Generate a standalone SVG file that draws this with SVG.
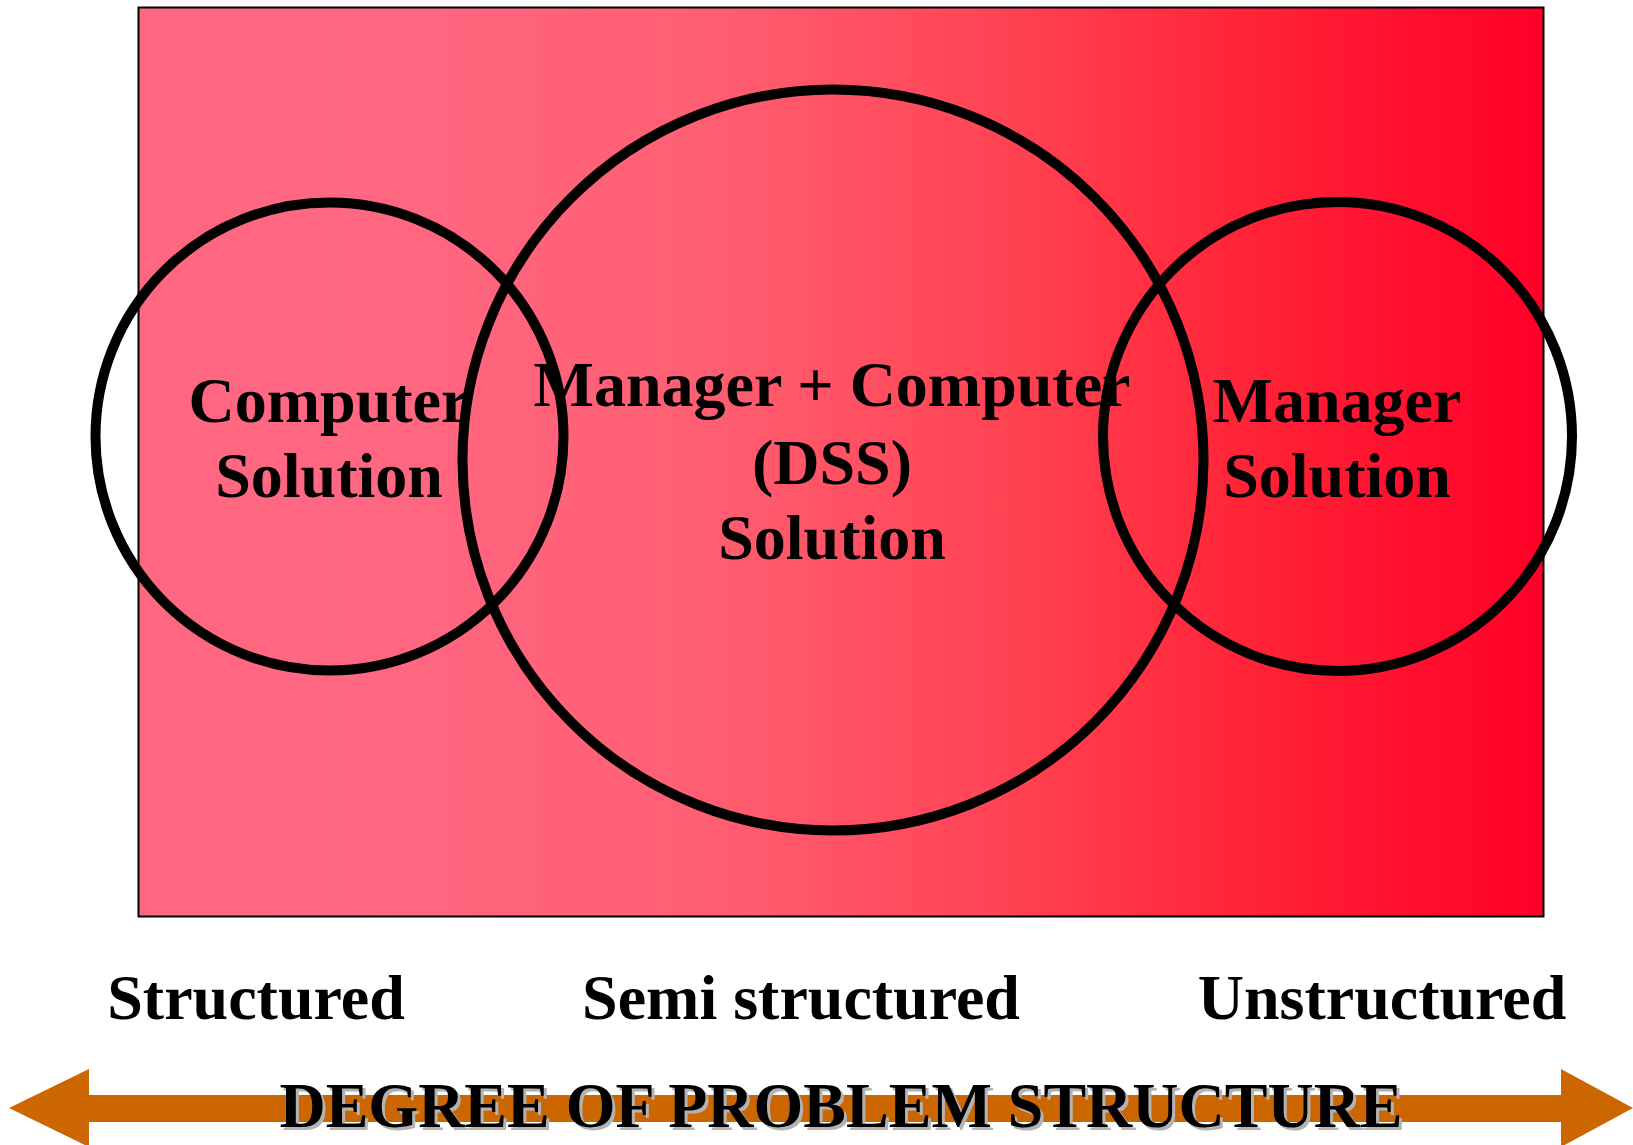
<svg xmlns="http://www.w3.org/2000/svg" width="1633" height="1145" viewBox="0 0 1633 1145">
  <defs>
    <linearGradient id="bg" x1="0" y1="0" x2="1" y2="0">
      <stop offset="0" stop-color="#FF6780"/>
      <stop offset="0.15" stop-color="#FF6883"/>
      <stop offset="0.4" stop-color="#FF5F73"/>
      <stop offset="0.6" stop-color="#FF4656"/>
      <stop offset="0.8" stop-color="#FF2236"/>
      <stop offset="1" stop-color="#FF0028"/>
    </linearGradient>
    <style>
      .ring { fill: none; stroke: #000; stroke-width: 10; }
      .lbl { font-family: "Liberation Serif", "Times New Roman", serif; font-weight: bold; font-size: 64px; text-anchor: middle; fill: #000; }
      .shadow { fill: #B3B3B3; }
      .arrow { fill: #CC6600; }
    </style>
  </defs>
  <rect x="0" y="0" width="1633" height="1145" fill="#FFFFFF"/>
  <g id="frame">
    <rect x="138.5" y="7.5" width="1405" height="909" fill="url(#bg)" stroke="#000" stroke-width="2"/>
  </g>
  <g id="computer-solution">
    <circle class="ring" cx="329.5" cy="436.5" r="234"/>
    <text class="lbl" x="329" y="422">Computer</text>
    <text class="lbl" x="329" y="497">Solution</text>
  </g>
  <g id="dss-solution">
    <circle class="ring" cx="833" cy="460" r="370.5"/>
    <text class="lbl" x="832" y="406">Manager + Computer</text>
    <text class="lbl" x="832" y="484">(DSS)</text>
    <text class="lbl" x="832" y="559">Solution</text>
  </g>
  <g id="manager-solution">
    <circle class="ring" cx="1337.5" cy="436.5" r="234.5"/>
    <text class="lbl" x="1337" y="422">Manager</text>
    <text class="lbl" x="1337" y="497">Solution</text>
  </g>
  <g id="scale-labels">
    <text class="lbl" x="256" y="1019">Structured</text>
    <text class="lbl" x="801" y="1019">Semi structured</text>
    <text class="lbl" x="1382" y="1019">Unstructured</text>
  </g>
  <g id="connectors">
    <polygon class="arrow" points="9,1108 89,1069 89,1095 1561,1095 1561,1069 1633,1108 1561,1147 1561,1122 89,1122 89,1147"/>
  </g>
  <g id="axis-title">
    <text class="lbl shadow" x="844" y="1130">DEGREE OF PROBLEM STRUCTURE</text>
    <text class="lbl" x="841" y="1127">DEGREE OF PROBLEM STRUCTURE</text>
  </g>
</svg>
